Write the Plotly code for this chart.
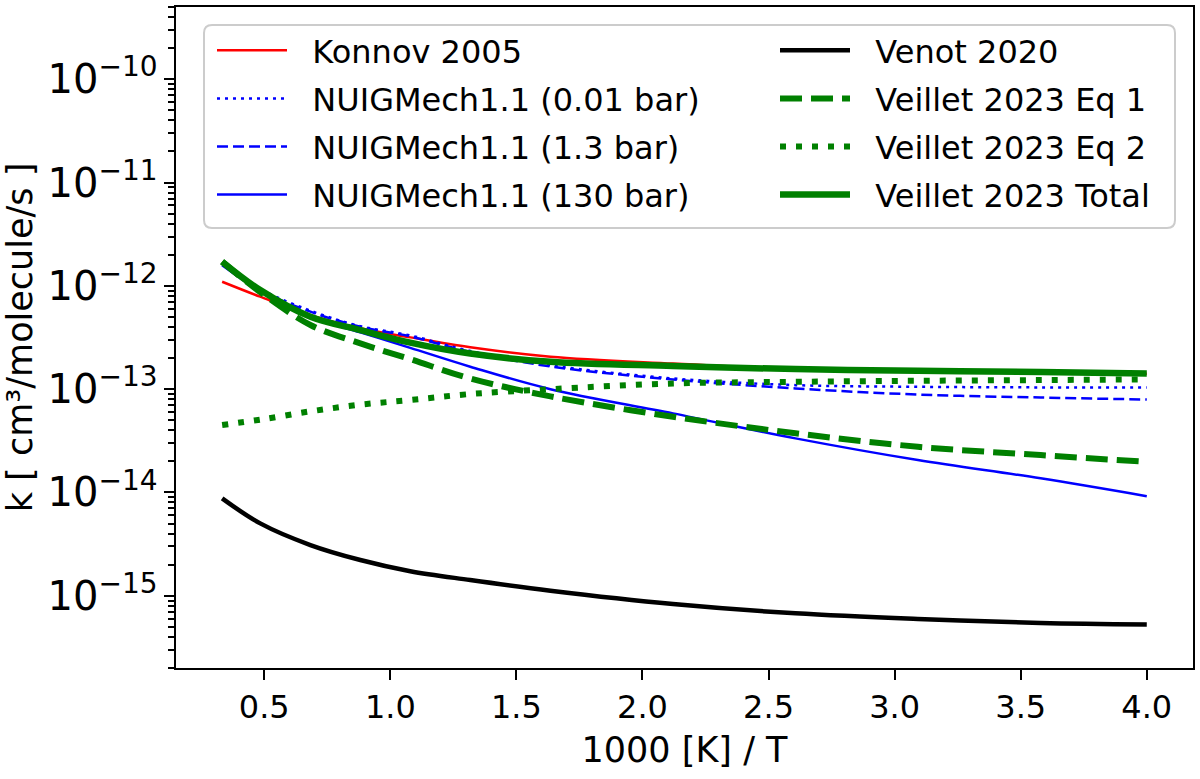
import plotly.graph_objects as go

# 1000/T grid the curves were read at
inv_T = [0.333, 0.484, 0.683, 0.881, 1.079, 1.317, 1.635, 2.121, 2.607, 3.092, 3.579, 4.0]

# rate constants, cm3/molecule/s
k_konnov = [1.096e-12, 7.85e-13, 5.21e-13, 3.88e-13, 3.17e-13, 2.54e-13, 2.06e-13, 1.77e-13, 1.57e-13, 1.50e-13, 1.45e-13, 1.41e-13]
k_nuig_001 = [1.66e-12, 9.33e-13, 5.75e-13, 4.07e-13, 3.31e-13, 2.34e-13, 1.70e-13, 1.27e-13, 1.094e-13, 1.054e-13, 1.04e-13, 1.04e-13]
k_nuig_13 = [1.66e-12, 9.10e-13, 5.62e-13, 4.02e-13, 3.24e-13, 2.29e-13, 1.66e-13, 1.24e-13, 1.016e-13, 8.87e-14, 8.30e-14, 7.94e-14]
k_nuig_130 = [1.585e-12, 8.91e-13, 5.01e-13, 3.55e-13, 2.51e-13, 1.65e-13, 1.00e-13, 5.83e-14, 3.34e-14, 2.06e-14, 1.37e-14, 9.2e-15]
k_venot = [8.77e-15, 5.02e-15, 3.10e-15, 2.22e-15, 1.73e-15, 1.42e-15, 1.12e-15, 8.32e-16, 6.76e-16, 5.96e-16, 5.46e-16, 5.28e-16]
k_eq1 = [1.714e-12, 8.71e-13, 4.18e-13, 2.77e-13, 1.95e-13, 1.27e-13, 8.51e-14, 5.41e-14, 3.74e-14, 2.77e-14, 2.30e-14, 1.98e-14]
k_eq2 = [4.50e-14, 5.07e-14, 6.10e-14, 7.08e-14, 7.85e-14, 8.97e-14, 1.00e-13, 1.135e-13, 1.178e-13, 1.205e-13, 1.225e-13, 1.242e-13]
k_total = [1.714e-12, 9.10e-13, 5.02e-13, 3.73e-13, 2.82e-13, 2.21e-13, 1.84e-13, 1.675e-13, 1.563e-13, 1.507e-13, 1.462e-13, 1.419e-13]

font = "DejaVu Sans"
W, H = 1200, 779
L, R, T, B = 176, 7, 7, 111
pw, ph = W - L - R, H - T - B

def px(x):  # pixel -> paper x
    return (x - L) / pw

def py(y):  # pixel -> paper y
    return (H - B - y) / ph

fig = go.Figure()
pad = "\u00a0\u00a0"  # small gap between legend line and label, like matplotlib

def add(y, name, color, width, dash, leg):
    fig.add_trace(go.Scatter(x=inv_T, y=y, name=pad + name, mode="lines",
                             line=dict(color=color, width=width, dash=dash, shape="spline", smoothing=1.0),
                             legend=leg, legendgroup=name))

add(k_konnov, "Konnov 2005", "#ff0000", 2.5, "solid", "legend")
add(k_nuig_001, "NUIGMech1.1 (0.01 bar)", "#0000ff", 2.5, "3px,5px", "legend")
add(k_nuig_13, "NUIGMech1.1 (1.3 bar)", "#0000ff", 2.5, "11px,5px", "legend")
add(k_nuig_130, "NUIGMech1.1 (130 bar)", "#0000ff", 2.5, "solid", "legend")
add(k_venot, "Venot 2020", "#000000", 4.5, "solid", "legend2")
add(k_eq1, "Veillet 2023 Eq 1", "#008000", 6, "22px,9px", "legend2")
add(k_eq2, "Veillet 2023 Eq 2", "#008000", 6, "6px,10px", "legend2")
add(k_total, "Veillet 2023 Total", "#008000", 6.5, "solid", "legend2")

# legend frame (rounded, light grey) shared by both legend columns
x0, x1, y0, y1 = px(204), px(1175), py(228), py(25)
rx, ry = 8 / pw, 8 / ph
frame = (f"M{x0+rx},{y1} L{x1-rx},{y1} Q{x1},{y1} {x1},{y1-ry} "
         f"L{x1},{y0+ry} Q{x1},{y0} {x1-rx},{y0} L{x0+rx},{y0} "
         f"Q{x0},{y0} {x0},{y0+ry} L{x0},{y1-ry} Q{x0},{y1} {x0+rx},{y1} Z")
fig.add_shape(type="path", path=frame, xref="paper", yref="paper",
              line=dict(color="#cccccc", width=2), fillcolor="rgba(255,255,255,0.8)", layer="above")

leg_common = dict(yanchor="top", xanchor="left", bgcolor="rgba(0,0,0,0)", borderwidth=0,
                  itemwidth=70, traceorder="grouped", tracegroupgap=3.5,
                  font=dict(family=font, size=32, color="black"))

fig.update_layout(
    width=W, height=H,
    margin=dict(l=L, r=R, t=T, b=B),
    plot_bgcolor="white", paper_bgcolor="white",
    font=dict(family=font, size=32, color="black"),
    legend=dict(x=px(212), y=py(23), **leg_common),
    legend2=dict(x=px(775), y=py(23), **leg_common),
)

fig.update_xaxes(range=[0.1500, 4.1833], tickvals=[0.5, 1.0, 1.5, 2.0, 2.5, 3.0, 3.5, 4.0],
                 tickformat=".1f", ticks="outside", ticklen=10, tickwidth=2, tickcolor="black",
                 showline=True, linecolor="black", linewidth=2, mirror=True,
                 showgrid=False, zeroline=False, automargin=False,
                 title=dict(text="1000 [K] / T", font=dict(size=35), standoff=12))

fig.update_yaxes(type="log", range=[-15.699, -9.301], dtick=1, exponentformat="power",
                 ticks="outside", ticklen=10, tickwidth=2, tickcolor="black",
                 minor=dict(ticks="outside", ticklen=6, tickwidth=1.5, tickcolor="black", dtick="D1", showgrid=False),
                 showline=True, linecolor="black", linewidth=2, mirror=True,
                 showgrid=False, zeroline=False, automargin=False,
                 title=dict(text="k [ cm³/molecule/s ]", font=dict(size=35), standoff=10))

# drop the browser's default 8px body margin so the figure sits at the page origin
fig.write_html("out.html", config={"displayModeBar": False},
               post_script="document.body.style.margin='0';")
